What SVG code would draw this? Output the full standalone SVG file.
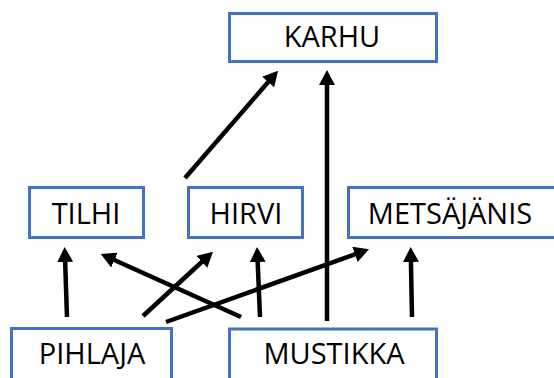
<svg xmlns="http://www.w3.org/2000/svg" width="554" height="378" viewBox="0 0 554 378">
<style>
.box{fill:#fff;stroke:#4472C4;stroke-width:3}
.lbl{font-family:"Open Sans","Liberation Sans",sans-serif;font-size:29px;fill:#000;text-anchor:middle}
.edge{stroke:#000;stroke-width:4.5;fill:none;marker-end:url(#ah)}
</style>
<defs>
<marker id="ah" markerUnits="userSpaceOnUse" markerWidth="16" markerHeight="16" refX="2" refY="8" orient="auto" viewBox="0 0 16 16">
<path d="M0,0 L15,8 L0,16 z" fill="#000"/>
</marker>
</defs>
<rect width="554" height="378" fill="#fff"/>
<g id="connectors">
<line class="edge" x1="67" y1="317" x2="65.1" y2="260"/>
<line class="edge" x1="241" y1="317" x2="112.6" y2="259.3"/>
<line class="edge" x1="143" y1="316" x2="203.4" y2="260.5"/>
<line class="edge" x1="260" y1="317" x2="257.6" y2="260"/>
<line class="edge" x1="166" y1="322" x2="356.8" y2="253.7"/>
<line class="edge" x1="412" y1="317" x2="410.9" y2="260"/>
<line class="edge" x1="327" y1="321" x2="327" y2="83"/>
<line class="edge" x1="185" y1="178" x2="269.5" y2="80.5"/>
</g>
<g id="karhu"><rect class="box" x="229.5" y="13.5" width="207" height="48"/><text class="lbl" x="332" y="47">KARHU</text></g>
<g id="tilhi"><rect class="box" x="29.5" y="187.5" width="114" height="50"/><text class="lbl" x="86" y="224">TILHI</text></g>
<g id="hirvi"><rect class="box" x="188.5" y="187.5" width="114" height="50"/><text class="lbl" x="246" y="224">HIRVI</text></g>
<g id="metsajanis"><rect class="box" x="348.5" y="187.5" width="220" height="50"/><text class="lbl" x="450" y="224">METSÄJÄNIS</text></g>
<g id="pihlaja"><rect class="box" x="11.5" y="328.5" width="160" height="60"/><text class="lbl" x="92" y="364">PIHLAJA</text></g>
<g id="mustikka"><rect class="box" x="229.5" y="329" width="207" height="60"/><text class="lbl" x="334" y="364">MUSTIKKA</text></g>
</svg>
